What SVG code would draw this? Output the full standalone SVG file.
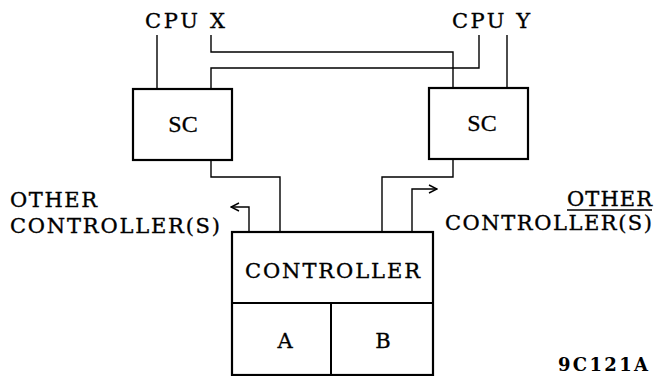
<svg xmlns="http://www.w3.org/2000/svg" width="656" height="376" viewBox="0 0 656 376">
<style>
text{font-family:"DejaVu Serif","Liberation Serif",serif;fill:#000}
.t{font-size:21px;stroke:#000;stroke-width:0.35}
.sc{font-family:"Liberation Serif","DejaVu Serif",serif;font-size:24px;stroke:#000;stroke-width:0.3}
.id{font-size:18px;font-weight:bold}
.box{fill:#fff;stroke:#000;stroke-width:2.2}
.ln{fill:none;stroke:#000;stroke-width:1.4}
</style>
<defs>
<marker id="ah" viewBox="0 0 10 10" refX="9" refY="5" markerWidth="10" markerHeight="10" markerUnits="userSpaceOnUse" orient="auto">
<path d="M1,1 L9,5 L1,9" fill="none" stroke="#000" stroke-width="1.4"/>
</marker>
</defs>
<rect width="656" height="376" fill="#fff"/>
<g id="connectors">
<path class="ln" d="M157,35 V89"/>
<path class="ln" d="M211,35 V52 H453 V88"/>
<path class="ln" d="M479,35 V68 H211 V89"/>
<path class="ln" d="M507,35 V88"/>
<path class="ln" d="M211,160 V177 H280 V232"/>
<path class="ln" d="M453,159 V177 H382 V232"/>
<path class="ln" d="M249,232 V207 H231" marker-end="url(#ah)"/>
<path class="ln" d="M412,232 V189 H437" marker-end="url(#ah)"/>
</g>
<g id="cpux"><text class="t" x="145" y="28" textLength="80" lengthAdjust="spacing">CPU X</text></g>
<g id="cpuy"><text class="t" x="452" y="28" textLength="78" lengthAdjust="spacing">CPU Y</text></g>
<g id="sc-left"><rect class="box" x="133" y="89" width="99" height="71"/><text class="sc" x="183" y="132" text-anchor="middle">SC</text></g>
<g id="sc-right"><rect class="box" x="429" y="88" width="99" height="71"/><text class="sc" x="482" y="131" text-anchor="middle">SC</text></g>
<g id="controller">
<rect class="box" x="232" y="232" width="201" height="143"/>
<path class="ln" d="M232,303 H433 M331,303 V375" style="stroke-width:2"/>
<text class="t" x="245" y="278" textLength="175" lengthAdjust="spacing">CONTROLLER</text>
<text class="t" x="285" y="348" text-anchor="middle">A</text>
<text class="t" x="383" y="348" text-anchor="middle">B</text>
</g>
<g id="other-left">
<text class="t" x="10" y="207" textLength="87" lengthAdjust="spacing">OTHER</text>
<text class="t" x="10" y="233" textLength="210" lengthAdjust="spacing">CONTROLLER(S)</text>
</g>
<g id="other-right">
<text class="t" x="567" y="206" textLength="85" lengthAdjust="spacing">OTHER</text>
<path class="ln" d="M567,210 H652"/>
<text class="t" x="445" y="230" textLength="207" lengthAdjust="spacing">CONTROLLER(S)</text>
</g>
<text class="id" x="558" y="371" textLength="90" lengthAdjust="spacing">9C121A</text>
</svg>
